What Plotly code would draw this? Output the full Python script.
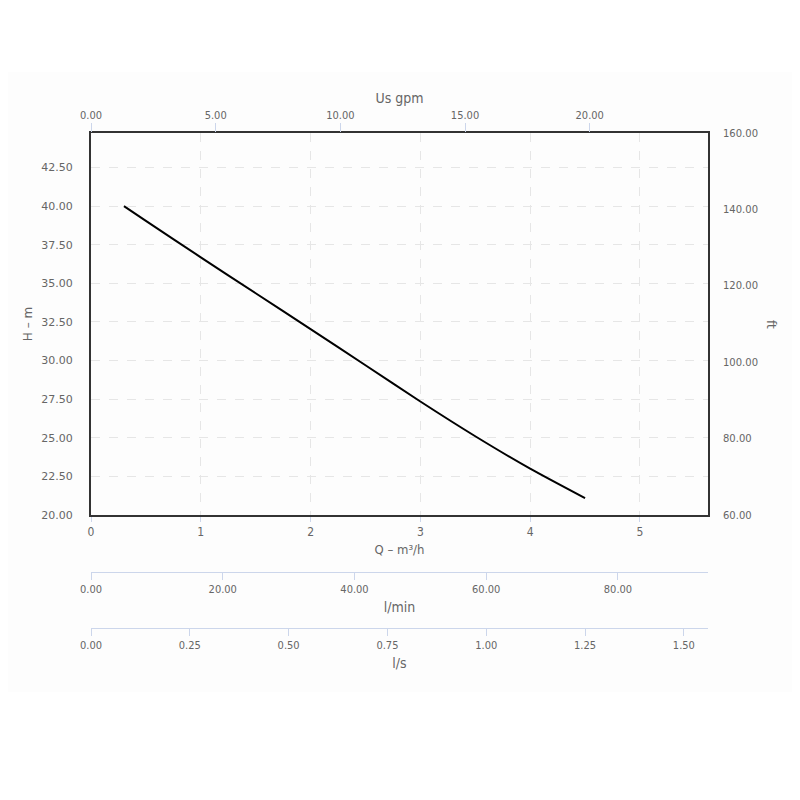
import plotly.graph_objects as go

# ---- data ----
flow_m3h = [0.3, 0.5, 1.0, 1.5, 2.0, 2.5, 3.0, 3.5, 4.0, 4.5]
head_m = [40.0, 39.05, 36.69, 34.36, 32.04, 29.70, 27.35, 25.10, 23.00, 21.09]

q_max = 5.62            # m3/h at right edge of plot
h_range = [20, 44.74]   # m
ft_range = [60, 160]    # ft
GPM_PER_M3H = 4.40287
LMIN_PER_M3H = 1000 / 60
LS_PER_M3H = 1 / 3.6

x_title = "Q – m³/h"
y_title = "H – m"
y2_title = "ft"
gpm_title = "Us gpm"
lmin_title = "l/min"
ls_title = "l/s"

# ---- layout geometry (page has 8px body margin) ----
OFF = 8
W, H = 800, 800
L, R, T, B = 91 - OFF, 800 + OFF - 708, 133 - OFF, 100
plot_h = H - T - B
plot_w = W - L - R
def ypaper(pix):
    return (H - B - (pix - OFF)) / plot_h
def xpaper(pix):
    return ((pix - OFF) - L) / plot_w

GRAY = "#666666"
TICKC = "#ccd6eb"
GRID = "#e6e6e6"
COND = "Liberation Sans Narrow, DejaVu Sans Condensed, Arial Narrow, sans-serif"
WIDE = "DejaVu Sans, Verdana, sans-serif"

fig = go.Figure()
fig.add_trace(go.Scatter(x=flow_m3h, y=head_m, mode="lines",
                         line=dict(color="black", width=2, shape="spline", smoothing=0.6),
                         xaxis="x", yaxis="y", showlegend=False, hoverinfo="x+y"))
# helper traces so the converted axes exist
fig.add_trace(go.Scatter(x=[q * GPM_PER_M3H for q in flow_m3h], y=head_m, mode="lines",
                         opacity=0, xaxis="x2", yaxis="y", showlegend=False, hoverinfo="skip"))
fig.add_trace(go.Scatter(x=[q * LMIN_PER_M3H for q in flow_m3h], y=head_m, mode="lines",
                         opacity=0, xaxis="x3", yaxis="y", showlegend=False, hoverinfo="skip"))
fig.add_trace(go.Scatter(x=[q * LS_PER_M3H for q in flow_m3h], y=head_m, mode="lines",
                         opacity=0, xaxis="x4", yaxis="y", showlegend=False, hoverinfo="skip"))
fig.add_trace(go.Scatter(x=flow_m3h, y=[h * 3.28084 for h in head_m], mode="lines",
                         opacity=0, xaxis="x", yaxis="y2", showlegend=False, hoverinfo="skip"))

ydom = [ypaper(515), 1]

fig.update_layout(
    width=W, height=H, autosize=False,
    margin=dict(l=L, r=R, t=T, b=B),
    paper_bgcolor="white", plot_bgcolor="white",
    font=dict(family=COND, color=GRAY),
    showlegend=False,
    xaxis=dict(range=[0, q_max], domain=[0, 1], anchor="y", side="bottom",
               dtick=1, tick0=0, tickformat="d",
               showline=True, linecolor="#333333", linewidth=2, mirror=True,
               showgrid=True, gridcolor=GRID, griddash="dash", gridwidth=1,
               zeroline=False, ticks="outside", ticklen=5, tickcolor=TICKC,
               tickfont=dict(family=COND, size=12, color=GRAY),
               title=dict(text=x_title, font=dict(family=COND, size=13, color=GRAY), standoff=6),
               automargin=False),
    yaxis=dict(range=h_range, domain=ydom, anchor="x", side="left",
               dtick=2.5, tick0=20, tickformat=".2f",
               showline=True, linecolor="#333333", linewidth=2, mirror=True,
               showgrid=True, gridcolor=GRID, griddash="dash", gridwidth=1,
               zeroline=False, ticks="", ticklen=0, ticklabelstandoff=14,
               tickfont=dict(family=WIDE, size=11, color=GRAY),
               title=dict(text=y_title, font=dict(family=WIDE, size=12, color=GRAY), standoff=6),
               automargin=False),
    yaxis2=dict(range=ft_range, overlaying="y", side="right", anchor="x",
                dtick=20, tick0=60, tickformat=".2f",
                showgrid=False, zeroline=False, showline=False, ticks="",
                ticklabelstandoff=14,
                tickfont=dict(family=WIDE, size=10, color=GRAY),
                automargin=False),
    xaxis2=dict(range=[0, q_max * GPM_PER_M3H], overlaying="x", side="top", anchor="y",
                dtick=5, tick0=0, tickformat=".2f",
                showgrid=False, zeroline=False, showline=False,
                ticks="outside", ticklen=9, tickcolor=TICKC,
                tickfont=dict(family=COND, size=11, color=GRAY),
                title=dict(text=gpm_title, font=dict(family=COND, size=14, color=GRAY), standoff=1),
                automargin=False),
    xaxis3=dict(range=[0, q_max * LMIN_PER_M3H], overlaying="x", side="bottom",
                anchor="free", position=ypaper(572),
                dtick=20, tick0=0, tickformat=".2f",
                showgrid=False, zeroline=False, showline=True, linecolor=TICKC, linewidth=1,
                ticks="outside", ticklen=7, tickcolor=TICKC,
                tickfont=dict(family=COND, size=11, color=GRAY),
                title=dict(text=lmin_title, font=dict(family=COND, size=14, color=GRAY), standoff=6),
                automargin=False),
    xaxis4=dict(range=[0, q_max * LS_PER_M3H], overlaying="x", side="bottom",
                anchor="free", position=ypaper(628),
                dtick=0.25, tick0=0, tickformat=".2f",
                showgrid=False, zeroline=False, showline=True, linecolor=TICKC, linewidth=1,
                ticks="outside", ticklen=7, tickcolor=TICKC,
                tickfont=dict(family=COND, size=11, color=GRAY),
                title=dict(text=ls_title, font=dict(family=COND, size=14, color=GRAY), standoff=6),
                automargin=False),
    annotations=[
        dict(text=y2_title, xref="paper", yref="paper",
             x=xpaper(771), y=ypaper(324),
             xanchor="center", yanchor="middle", showarrow=False, textangle=90,
             font=dict(family=WIDE, size=12, color=GRAY)),
    ],
    shapes=[dict(type="rect", xref="paper", yref="paper", layer="below",
                 x0=xpaper(5), x1=xpaper(793),
                 y0=ypaper(692), y1=ypaper(72),
                 fillcolor="#fdfdfd", line=dict(width=0))],
)

fig.write_html("out.html")
